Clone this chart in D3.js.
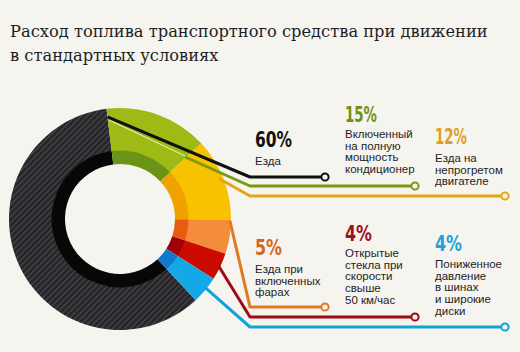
<!DOCTYPE html>
<html><head><meta charset="utf-8">
<script src="https://cdn.jsdelivr.net/npm/d3@7"></script>
<style>body{margin:0;background:#f6f4ef;}svg{display:block;}</style>
</head><body>
<script>
// ---- data ----
const categories = ["Езда", "Кондиционер", "Непрогретый двигатель", "Фары", "Открытые стекла", "Давление в шинах"];
const values = [60, 15, 12, 5, 4, 4];
const percentLabels = ["60%", "15%", "12%", "5%", "4%", "4%"];
const descriptions = [
  ["Езда"],
  ["Включенный", "на полную", "мощность", "кондиционер"],
  ["Езда на", "непрогретом", "двигателе"],
  ["Езда при", "включенных", "фарах"],
  ["Открытые", "стекла при", "скорости", "свыше", "50 км/час"],
  ["Пониженное", "давление", "в шинах", "и широкие", "диски"]
];
const titleLines = ["Расход топлива транспортного средства при движении", "в стандартных условиях"];

// ---- styles ----
const outerColors = ["url(#carbon)", "#9dbb14", "#f7c200", "#f58c3c", "#cc0a00", "#14a8e6"];
const innerColors = ["#070707", "#6b9416", "#f0a200", "#e85c12", "#a00008", "#1178cc"];
const lineColors = ["#111111", "#7a9a10", "#e2a814", "#e07a22", "#a00a14", "#12a2da"];
const pctColors = ["#111111", "#6f9010", "#dca022", "#d2661c", "#a01020", "#1ea2dc"];
const pctWidths = [37, 32, 32, 27, 27, 27];

const W = 520, H = 352;
const svg = d3.select("body").append("svg").attr("width", W).attr("height", H);
svg.append("rect").attr("width", W).attr("height", H).attr("fill", "#f6f4ef");

const defs = svg.append("defs");
const pat = defs.append("pattern").attr("id", "carbon").attr("patternUnits", "userSpaceOnUse")
  .attr("width", 4.2).attr("height", 4.2).attr("patternTransform", "rotate(45)");
pat.append("rect").attr("width", 4.2).attr("height", 4.2).attr("fill", "#262628");
pat.append("rect").attr("width", 1.5).attr("height", 4.2).attr("fill", "#424246");

// title
const title = svg.append("text").attr("font-family", "'DejaVu Serif','Liberation Serif',serif")
  .attr("fill", "#1e1e1e").attr("font-size", 18);
title.selectAll("tspan").data(titleLines).join("tspan")
  .attr("x", 10).attr("y", (d, i) => 37 + i * 24).text(d => d);
const t0 = title.select("tspan").node().getComputedTextLength();
title.attr("font-size", 18 * 478 / t0);

// donut
const cx = 120, cy = 219;
const deg = Math.PI / 180;
const start = 137 * deg;
const pie = d3.pie().sort(null).value(d => d).startAngle(start).endAngle(start + 2 * Math.PI);
const arcs = pie(values);
const g = svg.append("g").attr("transform", `translate(${cx},${cy})`);
const outerArc = d3.arc().innerRadius(68).outerRadius(111);
const innerArc = d3.arc().innerRadius(55).outerRadius(68.5);
g.selectAll("path.o").data(arcs).join("path").attr("class", "o")
  .attr("d", outerArc).attr("fill", (d, i) => outerColors[i]);
g.selectAll("path.i").data(arcs).join("path").attr("class", "i")
  .attr("d", innerArc).attr("fill", (d, i) => innerColors[i]);

// leader lines: anchor as fraction of segment angle + radius (layout)
const anchors = [[1.0, 103], [0.99, 90], [0.48, 107], [0.05, 110], [0.5, 109], [0.43, 109]];
const bendY = [177, 186, 196, 307, 317, 327];
const endX = [325, 415, 505, 325, 415, 505];
const bendX = 250;
const pts = arcs.map((a, i) => {
  const ang = a.startAngle + (a.endAngle - a.startAngle) * anchors[i][0];
  const r = anchors[i][1];
  return [cx + r * Math.sin(ang), cy - r * Math.cos(ang)];
});
svg.append("line").attr("x1", pts[0][0] + 1).attr("y1", pts[0][1] + 3)
  .attr("x2", pts[1][0]).attr("y2", pts[1][1] - 1)
  .attr("stroke", "#ffffff").attr("stroke-width", 1).attr("opacity", 0.8);
const line = d3.line();
svg.selectAll("path.lead").data(arcs).join("path").attr("class", "lead")
  .attr("d", (d, i) => line([pts[i], [bendX, bendY[i]], [endX[i], bendY[i]]]))
  .attr("fill", "none").attr("stroke", (d, i) => lineColors[i])
  .attr("stroke-width", 3).attr("stroke-linejoin", "round");
svg.selectAll("circle.end").data(arcs).join("circle").attr("class", "end")
  .attr("cx", (d, i) => endX[i]).attr("cy", (d, i) => bendY[i]).attr("r", 3.6)
  .attr("fill", "#f6f4ef").attr("stroke", (d, i) => lineColors[i]).attr("stroke-width", 2);

// labels
const labelX = [255, 345, 435, 255, 345, 435];
const pctY = [147, 122, 144, 255, 241, 251];
const descY = [165, 138, 162, 273, 257, 268];
const lab = svg.selectAll("g.lab").data(arcs).join("g").attr("class", "lab");
lab.append("text").attr("x", (d, i) => labelX[i]).attr("y", (d, i) => pctY[i])
  .attr("font-family", "'DejaVu Sans Condensed','Liberation Sans Narrow',sans-serif")
  .attr("font-weight", "bold").attr("font-size", 21)
  .attr("textLength", (d, i) => pctWidths[i]).attr("lengthAdjust", "spacingAndGlyphs")
  .attr("fill", (d, i) => pctColors[i]).text((d, i) => percentLabels[i]);
lab.each(function (d, i) {
  const t = d3.select(this).append("text").attr("font-family", "'Liberation Sans',Arial,sans-serif")
    .attr("font-size", 11.5).attr("fill", "#1e1e1e");
  t.selectAll("tspan").data(descriptions[i]).join("tspan")
    .attr("x", labelX[i]).attr("y", (s, j) => descY[i] + j * 11.7).text(s => s);
});
</script>
</body></html>
